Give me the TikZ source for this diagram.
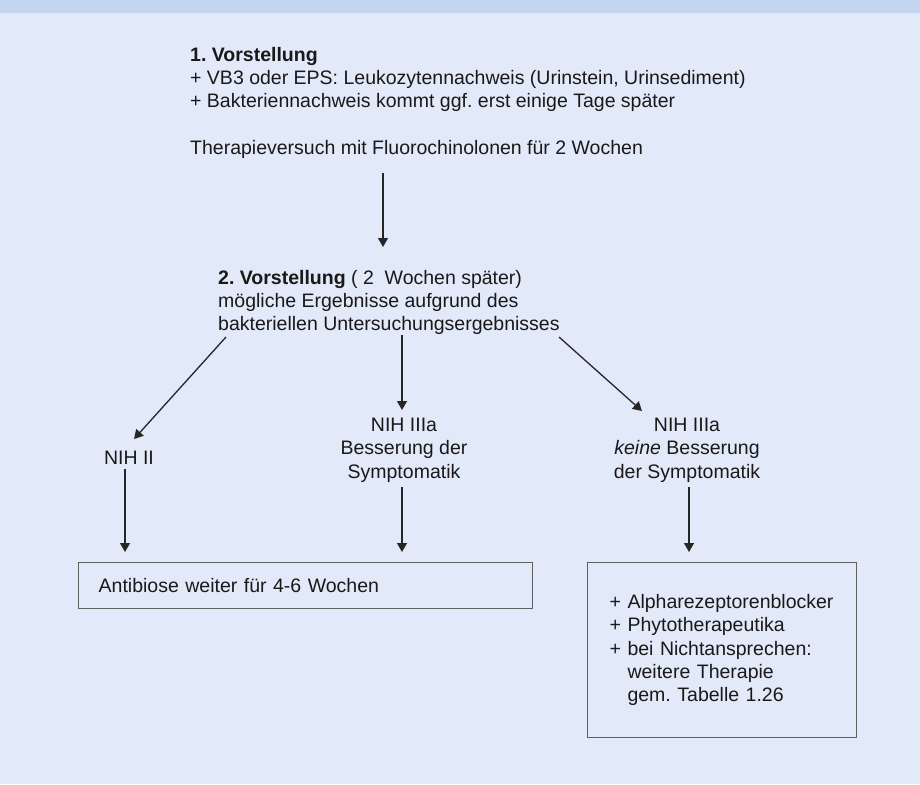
\documentclass[tikz,border=0pt]{standalone}
\usepackage{fontspec}
\setmainfont{Liberation Sans}
\usetikzlibrary{arrows.meta}
\frenchspacing

\definecolor{boxbg}{RGB}{226,233,248}
\definecolor{boxband}{RGB}{195,213,239}
\definecolor{boxline}{RGB}{95,95,95}

\begin{document}
\begin{tikzpicture}[x=1pt, y=-1pt,
		txt/.style={inner sep=0pt, align=left, text=black!90,
			font=\fontsize{19.5}{23.3}\selectfont},
		ctxt/.style={txt, align=center},
		arr/.style={-{Triangle[length=9pt, width=10pt]}, line width=1.3pt, black!85},
		frame/.style={draw=boxline, line width=1.3pt}]
		
		% background
		\fill[boxbg] (0,0) rectangle (920,784);
		\fill[boxband] (0,0) rectangle (920,13);
		
		% Node
		
		\node[txt, anchor=north west]
		(visit1) at (190,47) {\textbf{1. Vorstellung}\\
			+ VB3 oder EPS: Leukozytennachweis (Urinstein, Urinsediment)\\
			+ Bakteriennachweis kommt ggf. erst einige Tage später\\[23.3pt]
			Therapieversuch mit Fluorochinolonen für 2 Wochen};
		
		\node[txt, anchor=north west]
		(visit2) at (218,270) {\textbf{2. Vorstellung} ( 2~~Wochen später)\\
			mögliche Ergebnisse aufgrund des\\
			bakteriellen Untersuchungsergebnisses};
		
		\node[txt, anchor=base]
		(nih2) at (129,464) {NIH II};
		\node[ctxt, anchor=north]
		(nih3a) at (404,418) {NIH IIIa\\Besserung der\\Symptomatik};
		\node[ctxt, anchor=north]
		(nih3aNo) at (687,418) {NIH IIIa\\\textit{keine} Besserung\\der Symptomatik};
		
		% Boxes
		
		\node[txt, frame, anchor=north west, inner xsep=20pt, text width=414pt,
			minimum height=46pt]
		(antibiose) at (78,562) {Antibiose weiter für 4-6 Wochen};
		\node[txt, frame, anchor=north west, inner xsep=22pt, text width=225pt,
			minimum height=175pt]
		(alpha) at (587,562) {+ Alpharezeptorenblocker\\
			+ Phytotherapeutika\\
			+ bei Nichtansprechen:\\
			\phantom{+}\ weitere Therapie\\
			\phantom{+}\ gem. Tabelle 1.26};
		
		% arrow ends
		
		\coordinate (v1Out) at (383,173);
		\coordinate (v2In) at (383,247);
		\coordinate (v2OutL) at (226,337);
		\coordinate (v2OutM) at (402,335);
		\coordinate (v2OutR) at (559,337);
		\coordinate (nih2In) at (134,439);
		\coordinate (nih3aIn) at (402,410);
		\coordinate (nih3aNoIn) at (642,411);
		\coordinate (nih2Out) at (125,469);
		\coordinate (nih3aOut) at (402,487);
		\coordinate (nih3aNoOut) at (689,487);
		
		% EDGE
		
		\draw[arr] (v1Out) -- (v2In);
		\draw[arr] (v2OutL) -- (nih2In);
		\draw[arr] (v2OutM) -- (nih3aIn);
		\draw[arr] (v2OutR) -- (nih3aNoIn);
		
		\draw[arr, shorten >=10pt] (nih2Out) -- (nih2Out |- antibiose.north);
		\draw[arr, shorten >=10pt] (nih3aOut) -- (nih3aOut |- antibiose.north);
		\draw[arr, shorten >=10pt] (nih3aNoOut) -- (nih3aNoOut |- alpha.north);
		
	\end{tikzpicture}
\end{document}
